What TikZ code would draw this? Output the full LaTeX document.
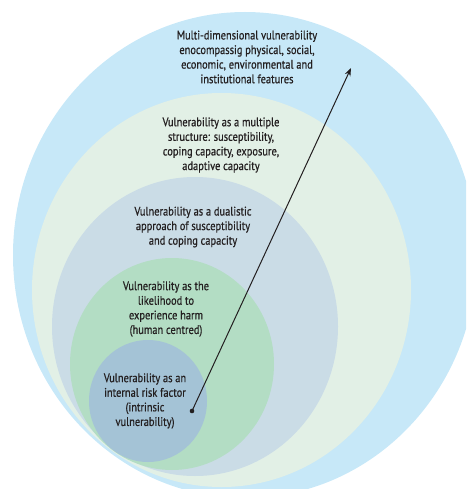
\documentclass[tikz,border=0pt]{standalone}
\usepackage{fontspec}
\setmainfont[FakeStretch=0.84,FakeBold=0.6]{PT Sans}
\usetikzlibrary{shapes.geometric,arrows.meta}
\definecolor{ringA}{HTML}{C7E8F8}
\definecolor{ringB}{HTML}{E2F0E6}
\definecolor{ringC}{HTML}{CADCE6}
\definecolor{ringD}{HTML}{B3DDC4}
\definecolor{ringE}{HTML}{A4C3D6}
\definecolor{ink}{HTML}{231F20}
\begin{document}
\begin{tikzpicture}[x=1pt,y=-1pt,
  ring/.style={ellipse,draw=none,inner sep=0pt},
  label/.style={align=center,text=ink,font=\fontsize{12.4}{14.6}\selectfont,inner sep=0pt},
  arrowline/.style={draw=ink,line width=1pt,-{Stealth[length=8pt,width=6pt]}}]
\useasboundingbox (0,0) rectangle (466,489);
\clip (0,0) rectangle (466,489);
% nested rings, outermost first
\node[ring,fill=ringA,minimum width=464pt,minimum height=486pt] (r1) at (245,255) {};
\node[ring,fill=ringB,minimum width=379pt,minimum height=394pt] (r2) at (221.5,290) {};
\node[ring,fill=ringC,minimum width=286pt,minimum height=299pt] (r3) at (195,326.5) {};
\node[ring,fill=ringD,minimum width=204pt,minimum height=212pt] (r4) at (172,364) {};
\node[ring,fill=ringE,minimum width=118pt,minimum height=122pt] (r5) at (148,401) {};
% ring captions
\node[label] (t1) at (247,57) {Multi-dimensional vulnerability\\enocompassig physical, social,\\economic, environmental and\\institutional features};
\node[label] (t2) at (221,145) {Vulnerability as a multiple\\structure: susceptibility,\\coping capacity, exposure,\\adaptive capacity};
\node[label] (t3) at (193,227) {Vulnerability as a dualistic\\approach of susceptibility\\and coping capacity};
\node[label] (t4) at (166,309) {Vulnerability as the\\likelihood to\\experience harm\\(human centred)};
\node[label] (t5) at (145,401) {Vulnerability as an\\internal risk factor\\(intrinsic\\vulnerability)};
% evolution arrow
\coordinate (start) at (192,411);
\coordinate (tip) at (351,68);
\fill[ink] (start) circle (2.3pt);
\draw[arrowline] (start) -- (tip);
\end{tikzpicture}
\end{document}
